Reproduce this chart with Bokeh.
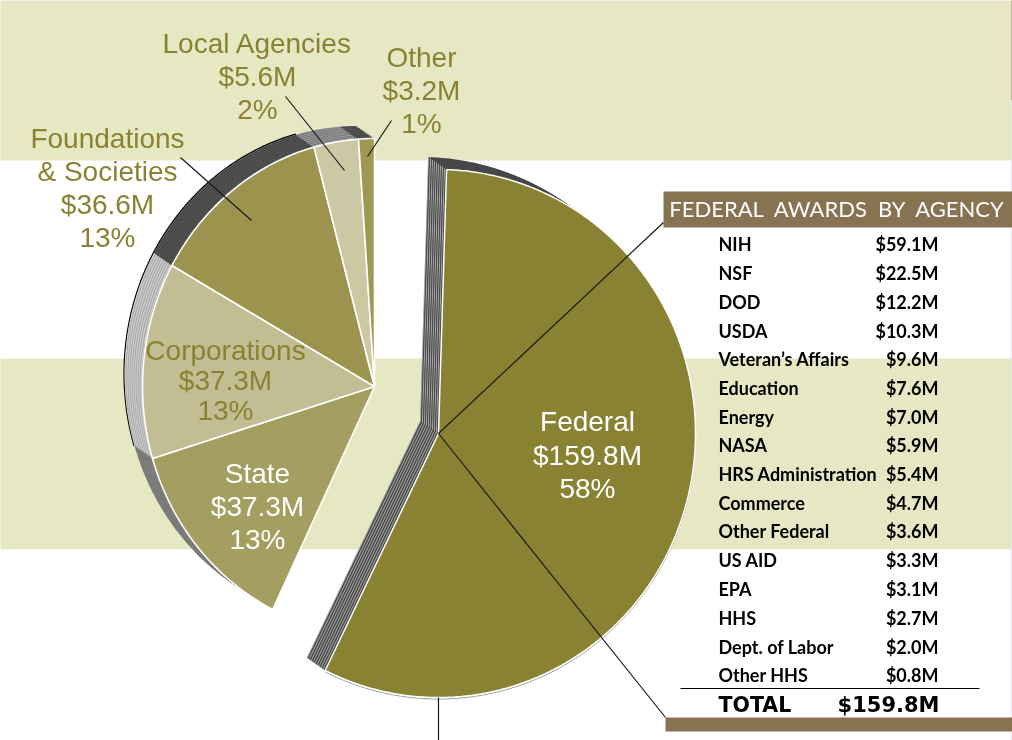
import numpy as np
from bokeh.plotting import figure
from bokeh.embed import file_html
from bokeh.resources import INLINE
from bokeh.core.properties import value

# ---------- data ----------
slice_names = ["Federal", "State", "Corporations", "Foundations", "Local", "Other"]
slice_share = [56.2, 13.1, 12.8, 12.7, 3.1, 1.1]   # drawn share of the circle, %
face_colors = ["#8a8233", "#a49e60", "#c3bd93", "#9c944e", "#ccc8a4", "#a09852"]
rim_dark = ["#454545", "#6e6e6e", "#a8a8a8", "#444444", "#777777", "#444444"]
rim_light = ["#4f4f4f", "#8a8a8a", "#cfcfcf", "#565656", "#999999", "#585858"]

labels = [
    (["Local Agencies", "$5.6M", "2%"], 257, 43, 33, "#8a8233"),
    (["Other", "$3.2M", "1%"], 421, 57, 33, "#8a8233"),
    (["Foundations", "& Societies", "$36.6M", "13%"], 107, 138, 33, "#8a8233"),
    (["Corporations", "$37.3M", "13%"], 225, 350, 30, "#8a8233"),
    (["State", "$37.3M", "13%"], 257, 473, 33, "white"),
    (["Federal", "$159.8M", "58%"], 587, 421, 33.5, "white"),
]

agencies = ["NIH", "NSF", "DOD", "USDA", "Veteran\u2019s Affairs", "Education", "Energy", "NASA",
            "HRS Administration", "Commerce", "Other Federal", "US AID", "EPA", "HHS",
            "Dept. of Labor", "Other HHS"]
amounts = ["$59.1M", "$22.5M", "$12.2M", "$10.3M", "$9.6M", "$7.6M", "$7.0M", "$5.9M",
           "$5.4M", "$4.7M", "$3.6M", "$3.3M", "$3.1M", "$2.7M", "$2.0M", "$0.8M"]
row_y = [243, 272, 301, 330, 358, 387, 416, 444, 473, 502, 530, 559, 588, 617, 646, 674]

band_color = "#e6e8c3"
brown = "#877351"
bands = [(0, 160), (358, 549)]

# ---------- figure (pixel-like data space) ----------
W, H = 1012, 740
p = figure(width=W, height=H, x_range=(0, W), y_range=(H, 0), output_backend="svg",
           toolbar_location=None, min_border=0, outline_line_color=None,
           background_fill_color="white", border_fill_color="white")
p.axis.visible = False
p.grid.visible = False
p.styles = {"position": "fixed", "left": "0px", "top": "0px"}

for y0, y1 in bands:
    p.quad(left=-5, right=W - 1, top=y0 - 5 if y0 == 0 else y0, bottom=y1,
           fill_color=band_color, line_color=None)
p.quad(left=W - 1, right=W + 5, top=-5, bottom=100, fill_color=brown, line_color=None)
p.quad(left=W - 1, right=W + 5, top=100, bottom=H + 5, fill_color="#d9d9ef", line_color=None)

share = np.array(slice_share, dtype=float)
sweep = share / share.sum() * 360.0


def wedge(cx, cy, rx, ry, a0, a1):
    t = np.radians(np.linspace(a0, a1, max(int(a1 - a0) * 2, 8)))
    return (np.r_[cx, cx + rx * np.sin(t)], np.r_[cy, cy - ry * np.cos(t)])


def tip(cx, cy, rx, ry, a):
    t = np.radians(a)
    return cx + rx * np.sin(t), cy - ry * np.cos(t)


N = 18
OFF = np.array([-18.0, -12.5])

# ---------- small pie (everything but Federal) ----------
sc = (374, 386, 232, 248)
start = 206.0
ang = [start]
for s in sweep[1:]:
    ang.append(ang[-1] + s)
scale = (360.0 - start) / (ang[-1] - start)
ang = [start + (a - start) * scale for a in ang]

# black back edge on the rim
bx, by = wedge(sc[0] + OFF[0] - .4, sc[1] + OFF[1] - .4, sc[2], sc[3], 253, 345)
p.line(bx[1:], by[1:], line_color="black", line_width=1.4)

for k in range(N, 0, -1):
    f = k / N
    for i in range(1, 6):
        x, y = wedge(sc[0] + OFF[0] * f, sc[1] + OFF[1] * f, sc[2], sc[3], ang[i - 1], ang[i])
        c = rim_dark[i] if k % 2 else rim_light[i]
        p.patch(x, y, fill_color=c, line_color=None)
for i in range(1, 6):
    x, y = wedge(sc[0], sc[1], sc[2], sc[3], ang[i - 1], ang[i])
    p.patch(x, y, fill_color=face_colors[i], line_color="white", line_width=1.6)

# ---------- main Federal slice ----------
mc = (438, 433, 257, 264)
a0 = 1.8
a1 = a0 + sweep[0]
for k in range(N, 0, -1):
    f = k / N
    x, y = wedge(mc[0] + OFF[0] * f, mc[1] + OFF[1] * f, mc[2], mc[3], a0, a1)
    p.patch(x, y, fill_color="#484848", line_color=None)
for k in range(N, 0, -1):
    f = k / N
    ox, oy = OFF * f
    c = "#4a4a4a" if k % 2 else "#a6a6a6"
    for a in (a0, a1):
        ex, ey = tip(mc[0] + ox, mc[1] + oy, mc[2], mc[3], a)
        p.line([mc[0] + ox, ex], [mc[1] + oy, ey], line_color=c, line_width=1.1)
x, y = wedge(mc[0], mc[1] + 1.5, mc[2], mc[3], a0 + 90, a1)
p.line(x[1:], y[1:], line_color="#9a9a9a", line_width=1)
x, y = wedge(mc[0], mc[1], mc[2], mc[3], a0, a1)
p.patch(x, y, fill_color=face_colors[0], line_color="white", line_width=1.5)

# ---------- table ----------
p.quad(left=663, right=W + 5, top=191, bottom=227, fill_color=brown, line_color=None)
p.quad(left=665, right=W + 5, top=717, bottom=731, fill_color=brown, line_color=None)
p.text(x=[836], y=[208], text=["FEDERAL\u00a0\u00a0AWARDS\u00a0\u00a0BY\u00a0\u00a0AGENCY"], text_color="white",
       text_font=value("Lato"), text_font_size="22px",
       text_align="center", text_baseline="middle")
p.text(x=[718] * len(agencies), y=row_y, text=agencies, text_color="black",
       text_font=value("Lato"), text_font_style="bold", text_font_size="18px",
       text_align="left", text_baseline="middle")
p.text(x=[938] * len(amounts), y=row_y, text=amounts, text_color="black",
       text_font=value("Lato"), text_font_style="bold", text_font_size="18px",
       text_align="right", text_baseline="middle")
p.line([680, 979], [688, 688], line_color="black", line_width=1.2)
p.text(x=[718], y=[704], text=["TOTAL"], text_color="black", text_font=value("DejaVu Sans"),
       text_font_style="bold", text_font_size="20.5px", text_align="left", text_baseline="middle")
p.text(x=[939], y=[704], text=["$159.8M"], text_color="black", text_font=value("DejaVu Sans"),
       text_font_style="bold", text_font_size="21px", text_align="right", text_baseline="middle")

# ---------- leader lines ----------
leaders = [
    ([438, 663], [433, 222]), ([438, 665], [433, 717]), ([438, 438], [697, 740]),
    ([180, 251], [157, 220]), ([285, 344], [96, 170]), ([391, 367], [120, 156]),
]
for lx, ly in leaders:
    p.line(lx, ly, line_color="#1a1a1a", line_width=1.2)

# ---------- labels ----------
for lines, cx, y0, dy, col in labels:
    ys = [y0 + dy * i for i in range(len(lines))]
    p.text(x=[cx] * len(lines), y=ys, text=lines, text_color=col,
           text_font=value("Liberation Sans"), text_font_size="28px",
           text_align="center", text_baseline="middle")

open("out.html", "w").write(file_html(p, INLINE))
